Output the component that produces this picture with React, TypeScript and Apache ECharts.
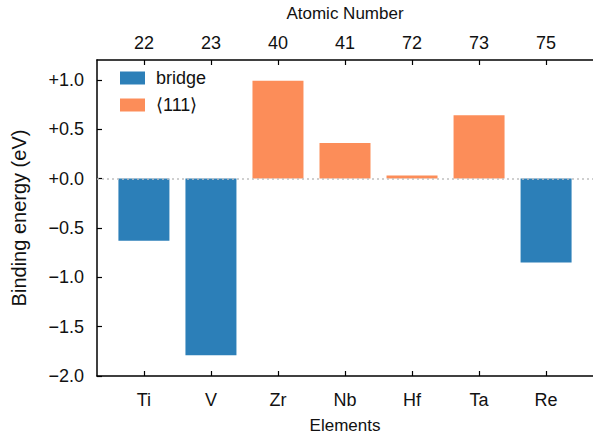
import React, { useEffect, useRef } from "react";
import * as echarts from "echarts";

// Elements along the bottom axis and their atomic numbers along the top axis
const elements = ["Ti", "V", "Zr", "Nb", "Hf", "Ta", "Re"];
const atomicNumbers = ["22", "23", "40", "41", "72", "73", "75"];

// Binding energies (eV); null where the site does not apply
const bridgeValues: (number | null)[] = [-0.63, -1.79, null, null, null, null, -0.85];
const site111Values: (number | null)[] = [null, null, 0.99, 0.36, 0.03, 0.64, null];

const yTicks = [-2, -1.5, -1, -0.5, 0, 0.5, 1];
const positions = elements.map((_, i) => i);

const FONT = "Liberation Sans, Arial, Helvetica, sans-serif";
const BLUE = "#2c7fb8";
const ORANGE = "#fc8d59";

function toPoints(vals: (number | null)[]) {
  return vals.map((v, i) => (v === null ? [i, null] : [i, v]));
}

export default function App() {
  const ref = useRef<HTMLDivElement>(null);

  useEffect(() => {
    document.body.style.margin = "0";
    if (!ref.current) return;
    const chart = echarts.init(ref.current, null, { renderer: "svg" });

    const axisLineStyle = { color: "#000", width: 1.5 };
    const tickStyle = { color: "#000", width: 1.2 };

    chart.setOption({
      animation: false,
      grid: { left: 97, right: -2, top: 60, bottom: 59, containLabel: false },
      legend: {
        left: 120,
        top: 69,
        orient: "vertical",
        itemWidth: 25,
        itemHeight: 13,
        itemGap: 9,
        padding: 0,
        textStyle: { fontFamily: FONT, fontSize: 18, color: "#111", padding: [0, 0, 0, 6] },
        data: [
          { name: "bridge", icon: "rect" },
          { name: "\u27e8111\u27e9", icon: "rect" },
        ],
      },
      xAxis: [
        {
          type: "value",
          position: "bottom",
          min: -0.7,
          max: 6.7,
          name: "Elements",
          nameLocation: "middle",
          nameGap: 41,
          nameTextStyle: { fontFamily: FONT, fontSize: 17, color: "#111" },
          axisLine: { show: true, onZero: false, lineStyle: axisLineStyle },
          axisTick: { show: true, inside: true, length: 5, customValues: positions, lineStyle: tickStyle },
          axisLabel: {
            customValues: positions,
            formatter: (v: number) => elements[Math.round(v)] ?? "",
            fontFamily: FONT,
            fontSize: 18,
            color: "#111",
            margin: 15,
          },
          splitLine: { show: false },
        },
        {
          type: "value",
          position: "top",
          min: -0.7,
          max: 6.7,
          name: "Atomic Number",
          nameLocation: "middle",
          nameGap: 38,
          nameTextStyle: { fontFamily: FONT, fontSize: 17, color: "#111" },
          axisLine: { show: true, onZero: false, lineStyle: axisLineStyle },
          axisTick: { show: true, inside: true, length: 5, customValues: positions, lineStyle: tickStyle },
          axisLabel: {
            customValues: positions,
            formatter: (v: number) => atomicNumbers[Math.round(v)] ?? "",
            fontFamily: FONT,
            fontSize: 18,
            color: "#111",
            margin: 8,
          },
          splitLine: { show: false },
        },
      ],
      yAxis: {
        type: "value",
        min: -2,
        max: 1.2,
        name: "Binding energy (eV)",
        nameLocation: "middle",
        nameGap: 68,
        nameTextStyle: { fontFamily: FONT, fontSize: 20, color: "#111" },
        axisLine: { show: true, onZero: false, lineStyle: axisLineStyle },
        axisTick: { show: true, inside: true, length: 5, customValues: yTicks, lineStyle: tickStyle },
        axisLabel: {
          customValues: yTicks,
          formatter: (v: number) => (v >= 0 ? "+" : "\u2212") + Math.abs(v).toFixed(1),
          fontFamily: FONT,
          fontSize: 18,
          color: "#111",
          margin: 13,
        },
        splitLine: { show: false },
      },
      series: [
        {
          name: "bridge",
          type: "bar",
          xAxisIndex: 0,
          barWidth: 51,
          barGap: "-100%",
          itemStyle: { color: BLUE },
          data: toPoints(bridgeValues),
          markLine: {
            silent: true,
            symbol: "none",
            label: { show: false },
            lineStyle: { color: "#c0c0c0", type: [2, 3], width: 1.5 },
            data: [{ yAxis: 0 }],
            z: 5,
          },
        },
        {
          name: "\u27e8111\u27e9",
          type: "bar",
          xAxisIndex: 0,
          barWidth: 51,
          barGap: "-100%",
          itemStyle: { color: ORANGE },
          data: toPoints(site111Values),
        },
      ],
    });

    return () => chart.dispose();
  }, []);

  return <div ref={ref} style={{ width: 593, height: 439 }} />;
}
